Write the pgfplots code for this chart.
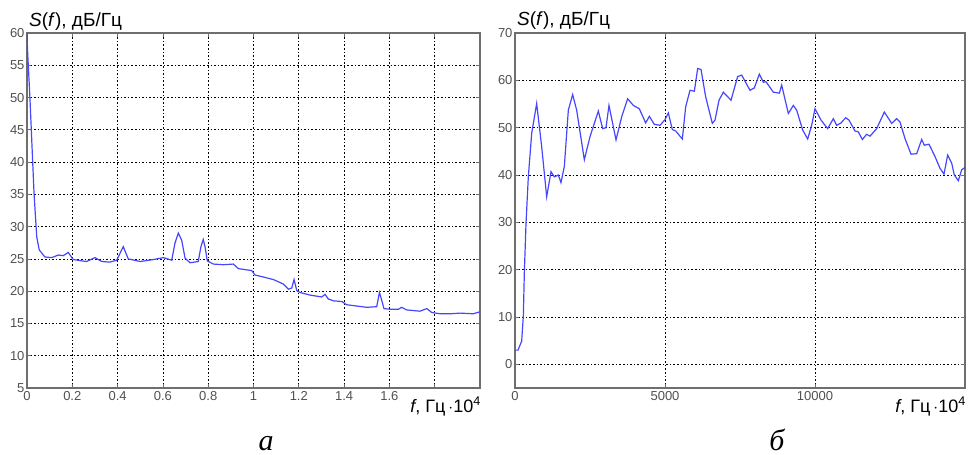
\documentclass[border=0pt]{standalone}
\usepackage{fontspec}
\setmainfont{Liberation Sans}
\newfontfamily\capfont{Liberation Serif}
\usepackage{pgfplots}
\pgfplotsset{compat=1.18}
\definecolor{linecol}{RGB}{70,70,255}
\definecolor{ticklab}{RGB}{80,80,80}
\definecolor{framecol}{RGB}{110,110,110}
\pgfplotsset{
  myaxis/.style={
    scale only axis,
    height=355pt,
    ymajorgrids, xmajorgrids,
    major grid style={black, line width=0.75pt, dash pattern=on 1.6pt off 2pt},
    axis line style={framecol, line width=1.3pt},
    tick align=inside,
    major tick length=4pt,
    tick style={framecol, line width=0.8pt},
    xtick pos=both, ytick pos=both,
    scaled ticks=false,
    tick label style={font=\fontsize{13}{13}\selectfont, text=ticklab},
    /pgf/number format/assume math mode=true,
    clip=true,
  }
}
\begin{document}
\begin{tikzpicture}
\useasboundingbox (0pt,0pt) rectangle (970pt,-455pt);
% ---------- left plot ----------
\begin{axis}[myaxis,
  width=453pt,
  anchor=north west, at={(27pt,-33pt)},
  xmin=0, xmax=2, ymin=5, ymax=60,
  xtick={0,0.2,0.4,0.6,0.8,1,1.2,1.4,1.6,1.8,2},
  xticklabels={0,0.2,0.4,0.6,0.8,1,1.2,1.4,1.6,{},{}},
  ytick={5,10,15,20,25,30,35,40,45,50,55,60},
  yticklabel style={xshift=1pt},
]
\addplot[linecol, line width=1.2pt] coordinates {
(0.000,61) (0.002,57.6) (0.013,49.9) (0.025,40.1) (0.031,35.2) (0.043,28.4)
(0.054,26.4) (0.079,25.3) (0.109,25.2) (0.138,25.6) (0.160,25.5) (0.182,26.0)
(0.204,24.9) (0.241,24.7) (0.263,24.6) (0.300,25.2) (0.330,24.6) (0.366,24.5)
(0.396,24.8) (0.425,26.9) (0.447,25.0) (0.500,24.6) (0.558,24.9) (0.602,25.2)
(0.639,24.8) (0.653,27.4) (0.668,29.0) (0.683,27.9) (0.698,25.1) (0.720,24.4)
(0.756,24.6) (0.768,26.9) (0.778,28.0) (0.786,26.9) (0.796,24.7) (0.823,24.2)
(0.867,24.1) (0.911,24.2) (0.933,23.5) (0.970,23.3) (0.992,23.2) (1.007,22.5)
(1.043,22.2) (1.088,21.8) (1.132,21.1) (1.154,20.3) (1.169,20.5) (1.179,21.8)
(1.191,20.1) (1.205,19.8) (1.249,19.4) (1.301,19.1) (1.316,19.5) (1.330,18.8)
(1.353,18.5) (1.390,18.4) (1.411,17.9) (1.456,17.7) (1.500,17.5) (1.544,17.6)
(1.556,19.8) (1.566,18.6) (1.576,17.3) (1.603,17.2) (1.640,17.2) (1.654,17.5)
(1.676,17.1) (1.735,16.9) (1.765,17.3) (1.787,16.7) (1.824,16.5) (1.868,16.5)
(1.912,16.6) (1.970,16.5) (2.000,16.8)
};
\end{axis}
% ---------- right plot ----------
\begin{axis}[myaxis,
  width=450pt,
  anchor=north west, at={(515pt,-33pt)},
  xmin=0, xmax=15000, ymin=-5, ymax=70,
  xtick={0,5000,10000,15000},
  xticklabels={0,5000,10000,{}},
  ytick={0,10,20,30,40,50,60,70},
  yticklabel style={xshift=1pt},
]
\addplot[linecol, line width=1.2pt] coordinates {
(0,3.0) (100,3.0) (222,4.9) (278,10.2) (311,19.3) (367,29.8) (444,39.6)
(556,48.8) (722,55.1) (889,46.0) (1056,35.4) (1200,40.7) (1311,39.6)
(1444,40.0) (1533,38.4) (1644,41.8) (1778,53.7) (1922,57.0) (2056,53.7)
(2311,43.2) (2500,48.1) (2778,53.5) (2922,49.8) (3033,50.0) (3133,54.7)
(3367,47.4) (3556,52.3) (3756,56.1) (3944,54.7) (4144,54.0) (4356,51.0)
(4478,52.4) (4644,50.7) (4833,50.5) (5000,51.7) (5111,53.1) (5244,49.6)
(5356,49.3) (5578,47.6) (5689,54.4) (5833,57.9) (5978,57.7) (6089,62.5)
(6200,62.3) (6356,56.5) (6578,50.9) (6667,51.6) (6800,55.8) (6944,57.5)
(7200,55.8) (7422,60.8) (7556,61.1) (7833,57.9) (7978,58.4) (8144,61.3)
(8278,59.6) (8367,59.7) (8611,57.5) (8811,57.3) (8889,59.0) (9111,53.0)
(9278,54.7) (9389,53.7) (9589,49.5) (9756,47.6) (9889,50.5) (10000,54.0)
(10200,51.6) (10422,49.8) (10611,51.9) (10722,50.5) (10867,51.0) (11022,52.1)
(11133,51.6) (11333,49.3) (11444,49.1) (11578,47.5) (11722,48.6) (11833,48.2)
(12056,49.8) (12311,53.3) (12556,50.9) (12722,51.9) (12833,51.2) (13000,47.7)
(13200,44.4) (13389,44.5) (13556,47.5) (13644,46.3) (13800,46.5) (14000,43.9)
(14167,41.4) (14300,40.2) (14422,44.2) (14556,42.5) (14644,40.0) (14778,38.8)
(14889,41.1) (15000,41.6)
};
\end{axis}
% ---------- texts ----------
\node[anchor=base west, inner sep=0pt, font=\fontsize{19}{19}\selectfont] at (29pt,-26pt) {\textit{S}(\textit{f}), дБ/Гц};
\node[anchor=base west, inner sep=0pt, font=\fontsize{19}{19}\selectfont] at (517pt,-25pt) {\textit{S}(\textit{f}), дБ/Гц};
\node[anchor=base east, inner sep=0pt, font=\fontsize{18}{18}\selectfont] at (481pt,-412pt) {\textit{f}, Гц\,$\cdot$10\textsuperscript{4}};
\node[anchor=base east, inner sep=0pt, font=\fontsize{18}{18}\selectfont] at (966pt,-412pt) {\textit{f}, Гц\,$\cdot$10\textsuperscript{4}};
\node[anchor=base, inner sep=0pt, font=\capfont\itshape\fontsize{30}{30}\selectfont] at (266pt,-450pt) {а};
\node[anchor=base, inner sep=0pt, font=\capfont\itshape\fontsize{30}{30}\selectfont] at (777pt,-450pt) {б};
\end{tikzpicture}
\end{document}
